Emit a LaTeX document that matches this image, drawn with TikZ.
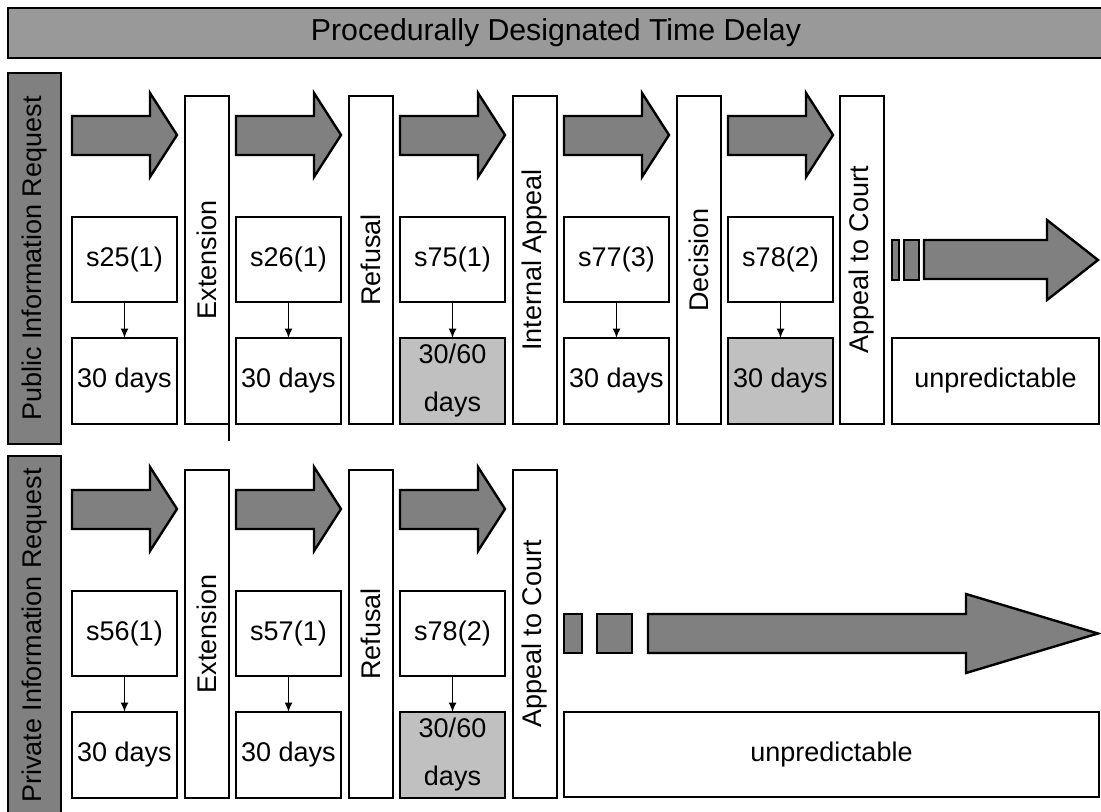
\documentclass[tikz,border=0pt]{standalone}
\usepackage{fontspec}
\setmainfont{Liberation Sans}
\usetikzlibrary{arrows.meta}
\definecolor{arrgray}{HTML}{808080}
\definecolor{labgray}{HTML}{808080}
\definecolor{titlegray}{HTML}{999999}
\definecolor{boxgray}{HTML}{C0C0C0}
\newcommand\dfs{\fontsize{20.25pt}{24pt}\selectfont}
\newcommand\dfsB{\fontsize{20.25pt}{36pt}\selectfont}
\newcommand\tfs{\fontsize{22.7pt}{27pt}\selectfont}
\begin{document}
\begin{tikzpicture}[x=0.75pt,y=-0.75pt,
  every node/.style={inner sep=0pt, outer sep=0pt},
  box/.style={draw=black, line width=1.8pt, fill=white, font=\dfs, align=center},
  sbox/.style={box, minimum width=78.75pt, minimum height=63.75pt, anchor=north west},
  dbox/.style={box, minimum width=78.75pt, minimum height=64.5pt, anchor=north west},
  gbox/.style={dbox, fill=boxgray, font=\dfsB},
  bar/.style={box, rotate=90, minimum width=246pt, minimum height=33pt},
  lab/.style={draw=black, line width=1.8pt, fill=labgray, rotate=90, minimum height=39.75pt, font=\dfs},
  blk/.style={draw=black, line width=1.8pt, fill=arrgray},
  conn/.style={line width=1.25pt, -{Latex[length=7pt,width=6pt]}}
]
\useasboundingbox (0,0) rectangle (1101,812);
\fill[white] (0,0) rectangle (1101,812);

% title
\node[draw=black, line width=1.8pt, fill=titlegray, minimum width=822pt, minimum height=37.5pt, font=\tfs] (title) at (556,33) {Procedurally Designated Time Delay};

% row labels
\node[lab, minimum width=278.25pt] (pub) at (34.5,258.5) {Public Information Request};
\node[lab, minimum width=269.25pt] (priv) at (34.5,635.5) {Private Information Request};

% ---------- Row 1 ----------
\foreach \L in {72,236,400,564,728}{
  \draw[blk] (\L,116) -- (\L+78,116) -- (\L+78,93) -- (\L+105,135) -- (\L+78,177) -- (\L+78,155) -- (\L,155) -- cycle;
}
\node[bar] (ea) at (207,260) {Extension};
\node[bar] (ra) at (371,260) {Refusal};
\node[bar] (ia) at (535,260) {Internal Appeal};
\node[bar] (da) at (699,260) {Decision};
\node[bar] (ca) at (862,260) {Appeal to Court};
\coordinate (xa) at (229,424);
\coordinate (xb) at (229,441);
\draw[line width=1.25pt] (xa) -- (xb);

\node[sbox] (s1) at (72,217) {s25(1)};
\node[sbox] (s2) at (236,217) {s26(1)};
\node[sbox] (s3) at (400,217) {s75(1)};
\node[sbox] (s4) at (564,217) {s77(3)};
\node[sbox] (s5) at (728,217) {s78(2)};
\node[dbox] (d1) at (72,338) {30 days};
\node[dbox] (d2) at (236,338) {30 days};
\node[gbox] (d3) at (400,338) {30/60\\days};
\node[dbox] (d4) at (564,338) {30 days};
\node[dbox, fill=boxgray] (d5) at (728,338) {30 days};
\foreach \i in {1,...,5}{\draw[conn] (s\i.south) -- (d\i.north);}

\draw[blk] (892,240) rectangle (899,280);
\draw[blk] (904,240) rectangle (919,280);
\draw[blk] (924,240) -- (1047,240) -- (1047,220) -- (1098,260) -- (1047,300) -- (1047,279) -- (924,279) -- cycle;
\node[box, minimum width=155.25pt, minimum height=64.5pt, anchor=north west] (ua) at (892,338) {unpredictable};

% ---------- Row 2 ----------
\foreach \L in {72,236,400}{
  \draw[blk] (\L,490) -- (\L+78,490) -- (\L+78,467) -- (\L+105,509) -- (\L+78,551) -- (\L+78,529) -- (\L,529) -- cycle;
}
\node[bar] (eb) at (207,634) {Extension};
\node[bar] (rb) at (371,634) {Refusal};
\node[bar] (cb) at (535,634) {Appeal to Court};

\node[sbox] (t1) at (72,591) {s56(1)};
\node[sbox] (t2) at (236,591) {s57(1)};
\node[sbox] (t3) at (400,591) {s78(2)};
\node[dbox] (e1) at (72,712) {30 days};
\node[dbox] (e2) at (236,712) {30 days};
\node[gbox] (e3) at (400,712) {30/60\\days};
\foreach \i in {1,2,3}{\draw[conn] (t\i.south) -- (e\i.north);}

\draw[blk] (564,614) rectangle (582,653);
\draw[blk] (597,614) rectangle (632,653);
\draw[blk] (648,614) -- (966,614) -- (966,594) -- (1098,633.5) -- (966,673) -- (966,653) -- (648,653) -- cycle;
\node[box, minimum width=401.25pt, minimum height=63.75pt, anchor=north west] (ub) at (564,712) {unpredictable};
\end{tikzpicture}
\end{document}
